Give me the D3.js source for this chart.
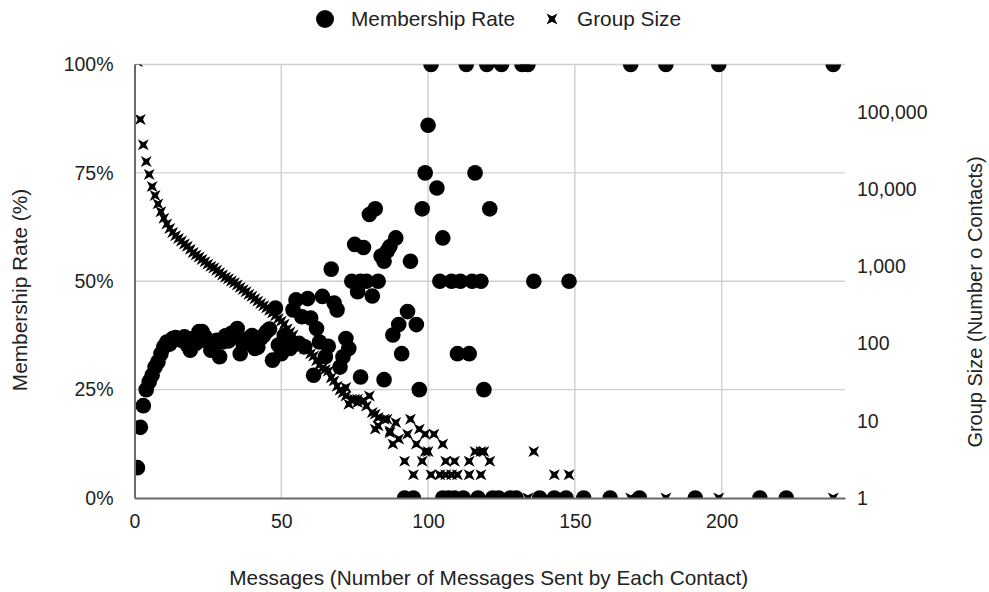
<!DOCTYPE html>
<html>
<head>
<meta charset="utf-8">
<script src="https://cdn.jsdelivr.net/npm/d3@7"></script>
<style>
  body { margin: 0; background: #fff; }
  svg text { font-family: "Liberation Sans", Arial, sans-serif; fill: #222; }
</style>
</head>
<body>
<svg id="chart" width="989" height="592"></svg>
<script>
// Membership rate (%) by number of messages sent
const rateMessages = [
  1, 2, 3, 4, 5, 6, 7, 8, 9, 10, 11, 12, 13, 14, 15, 16, 17, 18, 19, 20,
  21, 22, 23, 24, 25, 26, 27, 28, 29, 30, 31, 32, 33, 34, 35, 36, 37, 38, 39, 40,
  41, 42, 43, 44, 45, 46, 47, 48, 49, 50, 51, 52, 53, 54, 55, 56, 57, 58, 59, 60,
  61, 62, 63, 64, 65, 66, 67, 68, 69, 70, 71, 72, 73, 74, 75, 76, 77, 77, 78, 79,
  80, 81, 82, 83, 84, 85, 85, 86, 87, 88, 89, 90, 91, 92, 93, 94, 95, 96, 97, 98,
  99, 100, 101, 103, 104, 105, 105, 107, 108, 109, 110, 111, 112, 113, 114, 115, 116, 117, 118, 119,
  120, 121, 122, 124, 125, 128, 130, 132, 134, 136, 138, 143, 147, 148, 153, 162, 169, 172, 181, 191,
  199, 213, 222, 238
];
const rateValues = [
  7, 16.3, 21.3, 25, 26.8, 28.3, 30.2, 31.4, 33.3, 34.9, 36, 35.5, 36.8, 37, 36.6, 36.4, 37.2, 35.3, 34.1, 36.8,
  35.7, 38.4, 38.4, 37.2, 36, 34.1, 35.5, 36.4, 32.6, 36, 37.4, 36.2, 38, 37.2, 39.1, 33.3, 35.5, 36.6, 35.7, 37.5,
  34.5, 34.8, 36.8, 37.5, 38.4, 39, 31.8, 43.8, 35.3, 33.3, 37.5, 36.4, 34.5, 43.4, 45.7, 35.7, 41.8, 34.9, 46, 41.5,
  28.3, 39.1, 36, 46.5, 32.6, 35, 52.8, 45, 43.4, 30.2, 32.6, 36.8, 34.5, 50, 58.5, 47.6, 27.9, 50, 57.8, 50,
  65.4, 46.6, 66.7, 50, 55.8, 27.3, 54.6, 56.9, 58, 37.6, 60, 40, 33.3, 0, 43, 54.6, 0, 40, 25, 66.7,
  75, 86, 100, 71.5, 50, 60, 0, 0, 50, 0, 33.3, 50, 0, 100, 33.3, 50, 75, 0, 50, 25,
  100, 66.7, 0, 0, 100, 0, 0, 100, 100, 50, 0, 0, 0, 50, 0, 0, 100, 0, 100, 0,
  100, 0, 0, 100
];

// Group size (number of contacts) by number of messages sent
const sizeMessages = [
  1, 2, 3, 4, 5, 6, 7, 8, 9, 10, 11, 12, 13, 14, 15, 16, 17, 18, 19, 20,
  21, 22, 23, 24, 25, 26, 27, 28, 29, 30, 31, 32, 33, 34, 35, 36, 37, 38, 39, 40,
  41, 42, 43, 44, 45, 46, 47, 48, 49, 50, 51, 52, 53, 54, 55, 56, 57, 58, 59, 60,
  61, 62, 63, 64, 65, 66, 67, 68, 69, 70, 71, 72, 72, 73, 74, 75, 76, 76, 78, 78,
  79, 80, 81, 82, 82, 83, 83, 85, 86, 87, 87, 88, 89, 90, 92, 93, 94, 95, 96, 97,
  98, 99, 99, 100, 101, 102, 104, 105, 106, 106, 108, 109, 110, 114, 114, 116, 118, 118, 119, 121,
  134, 136, 143, 148, 169, 181, 199, 238
];
const sizeValues = [
  450000, 80000, 37600, 22800, 15500, 10800, 8300, 6450, 5100, 4200, 3550, 3100, 2750, 2500, 2300, 2130, 1950, 1820, 1660, 1510,
  1410, 1320, 1230, 1150, 1070, 1000, 955, 890, 830, 775, 725, 690, 645, 615, 575, 535, 500, 470, 435, 410,
  380, 355, 330, 310, 290, 270, 250, 230, 210, 195, 178, 155, 141, 129, 107, 100, 91, 85, 83, 74,
  69, 60, 53, 48, 46, 44, 36, 33, 28, 25, 23, 21, 27, 16.4, 19, 19, 17.2, 19, 18.1, 18.2,
  15.5, 21, 12.8, 12.2, 7.8, 11, 8.6, 10.5, 10.5, 7.4, 7, 5, 9.5, 5.8, 3, 6.7, 10.5, 2, 5, 7.8,
  3, 4, 6.7, 4, 2, 6.7, 2, 5, 2, 3, 2, 3, 2, 3, 2, 4, 2, 4, 4, 3,
  1, 4, 2, 2, 1, 1, 1, 1
];

const xTicks = [0, 50, 100, 150, 200];
const rateTicks = [0, 25, 50, 75, 100];
const sizeTicks = [1, 10, 100, 1000, 10000, 100000];
const seriesNames = ["Membership Rate", "Group Size"];
const xTitle = "Messages (Number of Messages Sent by Each Contact)";
const rateTitle = "Membership Rate (%)";
const sizeTitle = "Group Size (Number o Contacts)";

const plot = { left: 134.5, right: 845, top: 64.5, bottom: 498 };
const tickFont = 19.5;
const titleFont = 20.8;

const svg = d3.select("#chart");

const x = d3.scaleLinear().domain([0, 242]).range([plot.left, plot.right]);
const yRate = d3.scaleLinear().domain([0, 100]).range([plot.bottom, plot.top]);
const ySize = d3.scaleLog().domain([1, 412000]).range([plot.bottom, plot.top]);

// four-pointed star used for the group size markers
const starX = {
  draw(context, size) {
    const r = Math.sqrt(size) / 2;
    const inner = r * 0.34;
    for (let i = 0; i < 8; i++) {
      const a = i * Math.PI / 4 + Math.PI / 4;
      const rr = i % 2 === 0 ? r : inner;
      const px = rr * Math.cos(a), py = rr * Math.sin(a);
      if (i === 0) context.moveTo(px, py); else context.lineTo(px, py);
    }
    context.closePath();
  }
};
const starPath = d3.symbol().type(starX).size(240)();

// gridlines
const grid = svg.append("g");
grid.selectAll("line.h").data(rateTicks.filter(d => d > 0)).join("line")
  .attr("x1", plot.left).attr("x2", plot.right)
  .attr("y1", d => yRate(d)).attr("y2", d => yRate(d))
  .attr("stroke", "#cfcfcf").attr("stroke-width", 1.4);
grid.selectAll("line.v").data(xTicks.filter(d => d > 0)).join("line")
  .attr("x1", d => x(d)).attr("x2", d => x(d))
  .attr("y1", plot.top).attr("y2", plot.bottom)
  .attr("stroke", "#cfcfcf").attr("stroke-width", 1.4);

// marks, clipped to the plot area
svg.append("clipPath").attr("id", "plotClip").append("rect")
  .attr("x", plot.left).attr("y", plot.top)
  .attr("width", plot.right - plot.left).attr("height", plot.bottom - plot.top);
const marks = svg.append("g").attr("clip-path", "url(#plotClip)");

marks.append("g").selectAll("circle")
  .data(d3.range(rateMessages.length)).join("circle")
  .attr("cx", i => x(rateMessages[i]))
  .attr("cy", i => yRate(rateValues[i]))
  .attr("r", 7.8)
  .attr("fill", "#000");

marks.append("g").selectAll("path")
  .data(d3.range(sizeMessages.length)).join("path")
  .attr("d", starPath)
  .attr("transform", i => `translate(${x(sizeMessages[i])},${ySize(sizeValues[i])})`)
  .attr("fill", "#000");

// axes
const axisStyle = g => g.selectAll("text").style("font-size", tickFont + "px").attr("fill", "#222");

svg.append("g")
  .attr("transform", `translate(${plot.left},0)`)
  .call(d3.axisLeft(yRate).tickValues(rateTicks).tickFormat(d => d + "%").tickSize(0).tickPadding(21))
  .call(g => g.select(".domain").attr("stroke", "#6a6a6a").attr("stroke-width", 2))
  .call(axisStyle);

svg.append("g")
  .attr("transform", `translate(0,${plot.bottom})`)
  .call(d3.axisBottom(x).tickValues(xTicks).tickFormat(d3.format("d")).tickSize(0).tickPadding(16))
  .call(g => g.select(".domain").attr("stroke", "#6a6a6a").attr("stroke-width", 2))
  .call(axisStyle);

svg.append("g")
  .attr("transform", `translate(${plot.right},0)`)
  .call(d3.axisRight(ySize).tickValues(sizeTicks).tickFormat(d3.format(",")).tickSize(0).tickPadding(12))
  .call(g => g.select(".domain").remove())
  .call(axisStyle);

// axis titles
svg.append("text")
  .attr("x", (plot.left + plot.right) / 2 - 1).attr("y", 578)
  .attr("dy", "0.35em").attr("text-anchor", "middle")
  .style("font-size", titleFont + "px").text(xTitle);

svg.append("text")
  .attr("transform", "translate(20,290) rotate(-90)")
  .attr("dy", "0.35em").attr("text-anchor", "middle")
  .style("font-size", titleFont + "px").text(rateTitle);

svg.append("text")
  .attr("transform", "translate(975,302) rotate(-90)")
  .attr("dy", "0.35em").attr("text-anchor", "middle")
  .style("font-size", "20px").text(sizeTitle);

// legend
const legend = svg.append("g");
legend.append("circle").attr("cx", 325).attr("cy", 19).attr("r", 9).attr("fill", "#000");
legend.append("text").attr("x", 351).attr("y", 19).attr("dy", "0.35em")
  .style("font-size", titleFont + "px").text(seriesNames[0]);
legend.append("path").attr("d", starPath).attr("transform", "translate(552,19)").attr("fill", "#000");
legend.append("text").attr("x", 577).attr("y", 19).attr("dy", "0.35em")
  .style("font-size", titleFont + "px").text(seriesNames[1]);
</script>
</body>
</html>
